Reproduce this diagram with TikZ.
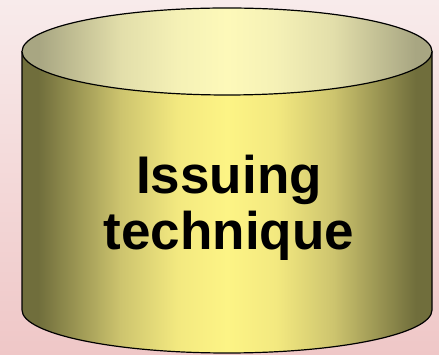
\documentclass[tikz,border=0pt]{standalone}
\usepackage{fontspec}
\setmainfont{Liberation Sans}
\usetikzlibrary{positioning}
\definecolor{bgTop}{RGB}{248, 235, 235}
\definecolor{bgBottom}{RGB}{239, 199, 199}
\definecolor{canEdge}{RGB}{112, 110, 60}
\definecolor{canMid}{RGB}{205, 196, 110}
\definecolor{canNear}{RGB}{243, 233, 128}
\definecolor{canCentre}{RGB}{253, 244, 133}
\definecolor{lidEdge}{RGB}{168, 166, 130}
\definecolor{lidMid}{RGB}{226, 222, 170}
\definecolor{lidNear}{RGB}{245, 241, 182}
\definecolor{lidCentre}{RGB}{253, 249, 185}
\pgfdeclarehorizontalshading{canside}{100bp}{color(0bp)=(canEdge); color(27bp)=(canEdge); color(37bp)=(canMid); color(44bp)=(canNear); color(50bp)=(canCentre); color(56bp)=(canNear); color(63bp)=(canMid); color(73bp)=(canEdge); color(100bp)=(canEdge)}
\pgfdeclarehorizontalshading{canlid}{100bp}{color(0bp)=(lidEdge); color(27bp)=(lidEdge); color(37bp)=(lidMid); color(44bp)=(lidNear); color(50bp)=(lidCentre); color(56bp)=(lidNear); color(63bp)=(lidMid); color(73bp)=(lidEdge); color(100bp)=(lidEdge)}

\begin{document}
\begin{tikzpicture}[x=1pt, y=1pt, line cap=round, line join=round]
        \useasboundingbox (0,0) rectangle (439,355);
        \shade[top color=bgTop, bottom color=bgBottom] (0,0) rectangle (439,355);
        % body of the can
        \shade[shading=canside] (22,303.5) -- (22,45) arc (180:360:205 and 43) -- (432,303.5) -- cycle;
        \draw[line width=1.2pt] (22,303.5) -- (22,45) arc (180:360:205 and 43) -- (432,303.5);
        % lid
        \shade[shading=canlid] (227,303.5) ellipse (205 and 43.5);
        \draw[line width=1.2pt] (227,303.5) ellipse (205 and 43.5);
        \node[align=center, font=\bfseries\fontsize{53}{56}\selectfont] (label) at (229,147) {Issuing\\technique};
    \end{tikzpicture}
\end{document}
